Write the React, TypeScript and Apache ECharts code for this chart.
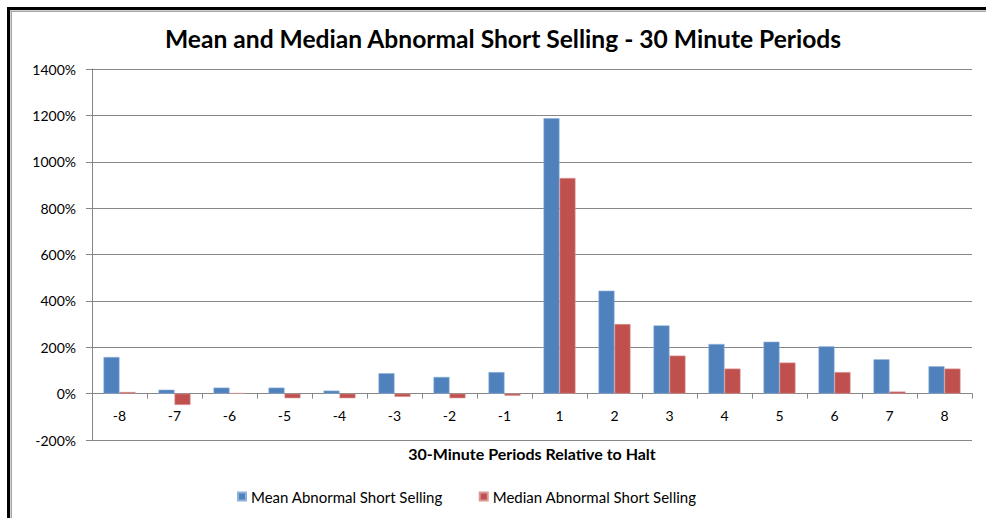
import React, { useEffect, useRef } from "react";
import * as echarts from "echarts";

const categories = ["-8", "-7", "-6", "-5", "-4", "-3", "-2", "-1", "1", "2", "3", "4", "5", "6", "7", "8"];
const meanValues = [158, 17, 26, 26, 13, 88, 72, 93, 1188, 444, 294, 214, 224, 204, 148, 118];
const medianValues = [7, -49, 2, -20, -20, -14, -20, -9, 930, 300, 164, 108, 134, 93, 9, 108];
const seriesNames = ["Mean Abnormal Short Selling", "Median Abnormal Short Selling"];
const titleText = "Mean and Median Abnormal Short Selling - 30 Minute Periods";
const xAxisTitle = "30-Minute Periods Relative to Halt";

const FONT = "Lato, 'Open Sans', sans-serif";

export default function App() {
  const ref = useRef<HTMLDivElement>(null);
  useEffect(() => {
    document.body.style.margin = "0";
    const chart = echarts.init(ref.current!, null, { renderer: "svg" });
    chart.setOption({
      animation: false,
      backgroundColor: "#ffffff",
      textStyle: { fontFamily: FONT },
      title: {
        text: titleText,
        left: 160,
        top: 21,
        textStyle: { fontFamily: FONT, fontSize: 24.6, fontWeight: "bold", color: "#000000" },
      },
      legend: {
        left: 232,
        top: 484,
        itemWidth: 8,
        itemHeight: 8,
        itemGap: 36,
        icon: "rect",
        textStyle: { fontFamily: FONT, fontSize: 15, color: "#000000" },
        data: seriesNames,
      },
      grid: { left: 92, right: 14, top: 69, bottom: 78, containLabel: false },
      xAxis: {
        type: "category",
        data: categories,
        position: "bottom",
        offset: -46.4,
        name: xAxisTitle,
        nameLocation: "middle",
        nameGap: 52,
        nameTextStyle: { fontFamily: FONT, fontSize: 16, fontWeight: "bold", color: "#000000" },
        axisLine: { onZero: false, lineStyle: { color: "#868686", width: 1 } },
        axisTick: { show: true, length: 5, lineStyle: { color: "#868686" } },
        axisLabel: { margin: 15, fontFamily: FONT, fontSize: 14, color: "#000000" },
        splitLine: { show: false },
      },
      yAxis: {
        type: "value",
        min: -200,
        max: 1400,
        interval: 200,
        axisLine: { show: true, lineStyle: { color: "#868686", width: 1 } },
        axisTick: { show: true, length: 6, lineStyle: { color: "#868686" } },
        axisLabel: {
          formatter: (v: number) => `${v}%`,
          margin: 16,
          fontFamily: FONT,
          fontSize: 14,
          color: "#000000",
        },
        splitLine: { show: true, lineStyle: { color: "#868686", width: 1 } },
      },
      series: [
        {
          name: seriesNames[0],
          type: "bar",
          data: meanValues,
          barWidth: 16,
          barGap: "0%",
          itemStyle: { color: "#4F81BD", borderColor: "#8fb0d8", borderWidth: 0.6 },
        },
        {
          name: seriesNames[1],
          type: "bar",
          data: medianValues,
          barWidth: 16,
          barGap: "0%",
          itemStyle: { color: "#C0504D", borderColor: "#d99795", borderWidth: 0.6 },
        },
      ],
      graphic: [
        { type: "rect", shape: { x: 7, y: 7, width: 979, height: 3 }, style: { fill: "#000000" }, silent: true },
        { type: "rect", shape: { x: 7, y: 7, width: 3, height: 511 }, style: { fill: "#000000" }, silent: true },
        { type: "rect", shape: { x: 10.5, y: 10.5, width: 975.5, height: 1.5 }, style: { fill: "#a6a6a6" }, silent: true },
        { type: "rect", shape: { x: 10.5, y: 10.5, width: 1.5, height: 507.5 }, style: { fill: "#a6a6a6" }, silent: true },
      ],
    });
    return () => chart.dispose();
  }, []);
  return <div ref={ref} style={{ position: "absolute", left: 0, top: 0, width: 986, height: 518 }} />;
}
